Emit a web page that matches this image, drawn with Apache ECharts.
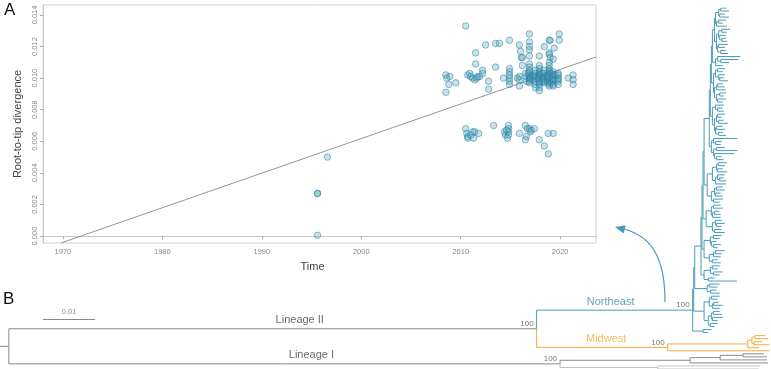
<!DOCTYPE html>
<html>
<head>
<meta charset="utf-8">
<script src="https://cdn.jsdelivr.net/npm/echarts@6/dist/echarts.min.js"></script>
<style>
html, body { margin: 0; padding: 0; background: #fff; }
#chart { width: 771px; height: 369px; }
</style>
</head>
<body>
<div id="chart"></div>
<script>
// ---- panel A: root-to-tip regression ----
var yearTicks = [1970, 1980, 1990, 2000, 2010, 2020];
var divTicks = [0, 0.002, 0.004, 0.006, 0.008, 0.010, 0.012, 0.014];

var earlyTips = [[1995.6, 0.0027], [1995.6, 0.0027], [1995.6, 0.00005], [1996.6, 0.0050]];

var lowerTips = [
  [2010.5, 0.0068], [2010.6, 0.0065], [2010.7, 0.0063], [2010.7, 0.0062], [2011.2, 0.0066], [2011.4, 0.0066],
  [2011.3, 0.0062], [2011.8, 0.0065], [2011.0, 0.0064], [2013.3, 0.0070],
  [2014.4, 0.0066], [2014.5, 0.0064], [2014.8, 0.0070], [2014.8, 0.0068], [2014.8, 0.0066], [2014.8, 0.0064],
  [2014.7, 0.0062], [2014.6, 0.0067], [2015.9, 0.0065],
  [2016.5, 0.0070], [2016.6, 0.0063], [2016.5, 0.0061], [2016.7, 0.0068], [2016.9, 0.0068], [2017.0, 0.0066],
  [2017.1, 0.0067], [2017.4, 0.0068], [2017.9, 0.0061],
  [2018.8, 0.0065], [2019.3, 0.0065], [2018.4, 0.0057], [2018.8, 0.0052]
];

var upperTips = [
  [2008.5, 0.0102], [2008.6, 0.0100], [2008.9, 0.0101], [2009.5, 0.0097], [2008.8, 0.0096], [2008.5, 0.0091],
  [2010.5, 0.0133], [2010.7, 0.0102], [2010.9, 0.0103],
  [2011.0, 0.0101], [2011.2, 0.0100], [2011.5, 0.0116], [2011.5, 0.0109], [2011.4, 0.0099], [2011.7, 0.0101],
  [2011.9, 0.0101], [2011.6, 0.0100],
  [2012.2, 0.0105], [2012.2, 0.0103], [2012.5, 0.0121], [2012.8, 0.0098], [2012.8, 0.0093],
  [2013.5, 0.0122], [2013.9, 0.0122], [2013.5, 0.0107],
  [2014.3, 0.0100], [2014.9, 0.0124], [2014.9, 0.0106], [2014.9, 0.0104], [2014.9, 0.0102], [2014.9, 0.0100],
  [2014.9, 0.0098], [2014.9, 0.0096],
  [2015.9, 0.0121], [2015.9, 0.0101], [2015.9, 0.0099], [2015.9, 0.0095], [2015.7, 0.0100],
  [2016.0, 0.0117], [2016.1, 0.0113], [2016.2, 0.0113], [2016.2, 0.0108], [2016.6, 0.0101], [2016.6, 0.0098],
  [2016.5, 0.0103],
  [2016.9, 0.0128], [2016.9, 0.0123], [2016.9, 0.0120], [2016.9, 0.0118], [2016.9, 0.0114], [2016.9, 0.0109],
  [2016.9, 0.0107], [2016.9, 0.0105], [2016.9, 0.0104], [2016.9, 0.0102], [2016.9, 0.0101], [2016.9, 0.0100],
  [2016.9, 0.0099], [2016.9, 0.0098], [2016.9, 0.0097], [2016.8, 0.0103], [2017.0, 0.0100],
  [2017.2, 0.0102], [2017.2, 0.0099], [2017.3, 0.0101],
  [2017.5, 0.0105], [2017.5, 0.0103], [2017.5, 0.0101], [2017.5, 0.0100], [2017.5, 0.0098], [2017.5, 0.0096],
  [2017.5, 0.0094],
  [2017.9, 0.0114], [2017.9, 0.0108], [2017.9, 0.0106], [2017.9, 0.0104], [2017.9, 0.0103], [2017.9, 0.0102],
  [2017.9, 0.0101], [2017.9, 0.0100], [2017.9, 0.0099], [2017.9, 0.0098], [2017.9, 0.0097], [2017.9, 0.0096],
  [2017.9, 0.0094], [2017.9, 0.0092], [2017.8, 0.0100], [2018.0, 0.0102],
  [2018.2, 0.0103], [2018.2, 0.0100], [2018.2, 0.0098],
  [2018.4, 0.0120], [2018.4, 0.0105], [2018.4, 0.0103], [2018.4, 0.0101], [2018.4, 0.0100], [2018.4, 0.0099],
  [2018.4, 0.0098], [2018.4, 0.0097],
  [2018.7, 0.0102], [2018.7, 0.0100], [2018.7, 0.0098],
  [2018.9, 0.0124], [2019.0, 0.0124], [2018.9, 0.0116], [2018.9, 0.0115], [2019.0, 0.0113],
  [2018.9, 0.0110], [2018.9, 0.0108], [2018.9, 0.0106], [2018.9, 0.0105], [2018.9, 0.0104], [2018.9, 0.0103],
  [2018.9, 0.0102], [2018.9, 0.0101], [2018.9, 0.0100], [2018.9, 0.0099], [2018.9, 0.0098], [2018.9, 0.0097],
  [2018.9, 0.0096], [2018.9, 0.0095], [2018.8, 0.0101],
  [2019.1, 0.0103], [2019.1, 0.0100], [2019.1, 0.0097],
  [2019.3, 0.0112], [2019.4, 0.0119], [2019.3, 0.0104], [2019.3, 0.0102], [2019.3, 0.0101], [2019.3, 0.0100],
  [2019.3, 0.0099], [2019.3, 0.0098], [2019.3, 0.0096], [2019.3, 0.0095],
  [2019.5, 0.0102], [2019.5, 0.0099],
  [2019.9, 0.0128], [2019.9, 0.0124], [2019.8, 0.0103], [2019.8, 0.0102], [2019.8, 0.0100], [2019.8, 0.0099],
  [2019.8, 0.0098], [2019.8, 0.0096],
  [2020.8, 0.0100], [2021.3, 0.0102], [2021.3, 0.0099], [2021.3, 0.0096]
];

// fitted line, clipped to the plot box
var fitLine = [[1969.8, -0.00044], [2023.6, 0.01134]];

// ---- panel B: ML tree (newick, subst/site) ----
var northeastSubclades = [
  ['((((:0.0012,:0.0016):0.0004,(:0.0010,:0.0018):0.0002):0.0006,((:0.0014,:0.0008):0.0004,:0.0020):0.0002):0.0002,(((:0.0016,:0.0010):0.0006,(:0.0012,(:0.0008,:0.0010):0.0004):0.0002):0.0004,((:0.0018,:0.0012):0.0002,(:0.0010,:0.0014):0.0006):0.0002):0.0004)', 0.0004],
  ['((:0.0044,(:0.0034,:0.0016):0.0006):0.0004,:0.0014)', 0.0006],
  ['(((:0.0014,:0.0010):0.0004,(:0.0012,(:0.0008,:0.0016):0.0002):0.0006):0.0004,(((:0.0010,:0.0014):0.0002,:0.0018):0.0004,((:0.0012,:0.0008):0.0006,(:0.0016,:0.0010):0.0002):0.0004):0.0002)', 0.0004],
  ['((:0.0016,(:0.0010,:0.0012):0.0004):0.0006,(((:0.0014,:0.0008):0.0002,(:0.0010,:0.0018):0.0004):0.0004,((:0.0012,:0.0016):0.0002,(:0.0008,:0.0014):0.0006):0.0002):0.0004)', 0.0004],
  ['((:0.0046,(:0.0012,:0.0010):0.0004):0.0004,((:0.0016,:0.0040):0.0006,(:0.0038,(:0.0010,:0.0014):0.0004):0.0002):0.0004)', 0.0004],
  ['((((:0.0016,:0.0012):0.0004,(:0.0010,:0.0018):0.0002):0.0008,((:0.0014,(:0.0008,:0.0012):0.0004):0.0004,:0.0020):0.0006):0.0010,(((:0.0012,:0.0016):0.0004,(:0.0010,:0.0014):0.0002):0.0006,(:0.0018,:0.0012):0.0004):0.0008)', 0.0006],
  ['(((:0.0014,:0.0018):0.0004,((:0.0010,:0.0012):0.0004,:0.0016):0.0002):0.0010,((:0.0012,(:0.0016,:0.0010):0.0002):0.0006,(:0.0014,:0.0020):0.0004):0.0012)', 0.0006],
  ['(((:0.0016,:0.0012):0.0006,(:0.0010,(:0.0014,:0.0008):0.0004):0.0002):0.0012,(((:0.0018,:0.0012):0.0004,:0.0014):0.0008,(:0.0010,:0.0016):0.0006):0.0010)', 0.0004],
  ['(((:0.0014,:0.0010):0.0004,(:0.0018,:0.0012):0.0006):0.0012,(:0.0012,:0.0055):0.0008)', 0.0006],
  ['((:0.0020,:0.0016):0.0004,(:0.0012,:0.0018):0.0006)', 0.0024],
  ['(((:0.0016,:0.0012):0.0004,((:0.0010,:0.0018):0.0002,:0.0014):0.0006):0.0010,(((:0.0012,:0.0016):0.0004,(:0.0020,:0.0010):0.0002):0.0006,(:0.0014,:0.0008):0.0004):0.0008)', 0.0020],
  ['(:0.0016,:0.0010)', 0.0020]
];
var backboneSteps = [0.0002, 0.0002, 0.0002, 0.0010, 0.0002, 0.0002, 0.0002, 0.0012, 0.0002, 0.0002];
var midwestNewick = '((((:0.0020,:0.0026):0.0006,(:0.0016,:0.0030):0.0004):0.0008,:0.0022):0.0154,:0.0196)MW';
var lineageINewick = '((((:0.0040,:0.0046):0.0044,:0.0090):0.0058,:0.0150):0.0250,(:0.0196,:0.0194)L1b:0.0188)L1';
var cladeBranch = { NE: 0.0300, MW: 0.0252, L2: 0.1015, L1: 0.1060, root: 0.0017 };
var cladeNames = { L2: 'Lineage II', L1: 'Lineage I', NE: 'Northeast', MW: 'Midwest' };
var nodeSupport = { L2: 100, NE: 100, MW: 100, L1: 100 };
var scaleBarLength = 0.01;

var teal = '#4a9bb7', tealText = '#3b8aa7', orange = '#f6aa38';
var cladeColor = { NE: teal, MW: orange, L1: '#8a8a8a', L1b: '#c2c2c2' };
var labelShift = { L2: 27, L1: 27, NE: -4, MW: 4 };

var ne = '(' + northeastSubclades[0][0] + ':' + northeastSubclades[0][1] + ',' +
  northeastSubclades[1][0] + ':' + northeastSubclades[1][1] + ')';
for (var k = 2; k < northeastSubclades.length; k++) {
  ne = '(' + ne + ':' + backboneSteps[k - 2] + ',' + northeastSubclades[k][0] + ':' + northeastSubclades[k][1] + ')';
}
var treeNewick = '((' + ne + 'NE:' + cladeBranch.NE + ',' + midwestNewick + ':' + cladeBranch.MW + ')L2:' +
  cladeBranch.L2 + ',' + lineageINewick + ':' + cladeBranch.L1 + '):' + cladeBranch.root + ';';

function parseNewick(s) {
  s = s.replace(/\s+/g, '');
  var i = 0;
  function node() {
    var n = { children: [], name: '', len: 0 };
    if (s[i] === '(') {
      i++;
      n.children.push(node());
      while (s[i] === ',') { i++; n.children.push(node()); }
      i++;
    }
    var name = '';
    while (i < s.length && ':,();'.indexOf(s[i]) < 0) name += s[i++];
    n.name = name;
    if (s[i] === ':') {
      i++;
      var num = '';
      while (i < s.length && ',();'.indexOf(s[i]) < 0) num += s[i++];
      n.len = parseFloat(num);
    }
    return n;
  }
  return node();
}

var tree = parseNewick(treeNewick);
var tipCount = 0;
function layout(n, parentX, color) {
  n.x = parentX + n.len;
  n.color = cladeColor[n.name] || color;
  if (!n.children.length) { n.y = tipCount++; return; }
  n.children.forEach(function (c) { layout(c, n.x, n.color); });
  n.y = (n.children[0].y + n.children[n.children.length - 1].y) / 2;
}
layout(tree, 0, '#8a8a8a');

var branches = [{ coords: [[0, tree.y], [tree.x, tree.y]], lineStyle: { color: '#8a8a8a' } }];
var nameLabels = [], supportLabels = [];
function collect(n) {
  n.children.forEach(function (c) {
    branches.push({ coords: [[n.x, n.y], [n.x, c.y], [c.x, c.y]], lineStyle: { color: c.color } });
    if (cladeNames[c.name]) {
      nameLabels.push({ value: [n.x + c.len / 2, c.y], name: cladeNames[c.name],
        label: { offset: [labelShift[c.name], 0],
          color: c.name === 'NE' ? tealText : (c.name === 'MW' ? orange : '#444') } });
    }
    if (nodeSupport[c.name]) supportLabels.push({ value: [c.x, c.y], name: String(nodeSupport[c.name]) });
    collect(c);
  });
}
collect(tree);

var scaleBarStart = 0.0083, scaleBarRow = 102.5;

var font = 'Liberation Sans, Arial, sans-serif';
var chart = echarts.init(document.getElementById('chart'));
chart.setOption({
  animation: false,
  backgroundColor: '#fff',
  textStyle: { fontFamily: font },
  grid: [
    { left: 43, top: 5, width: 553, height: 238, show: true, borderColor: '#d0d0d0', borderWidth: 1 },
    { left: 0, right: 0, top: 8, bottom: 0 }
  ],
  xAxis: [
    {
      gridIndex: 0, type: 'value', min: 1968, max: 2023.6,
      name: 'Time', nameLocation: 'middle', nameGap: 18,
      nameTextStyle: { fontSize: 11, color: '#444', fontFamily: font, padding: [0, 14, 0, 0] },
      axisLine: { show: true, lineStyle: { color: '#c8c8c8' } },
      axisTick: { show: true, length: 3, customValues: yearTicks, lineStyle: { color: '#aaa' } },
      axisLabel: { customValues: yearTicks, fontSize: 7.5, color: '#888', margin: 5,
        formatter: function (v) { return String(v); } },
      splitLine: { show: false }
    },
    { gridIndex: 1, type: 'value', min: 0, max: 771 / 5200, show: false }
  ],
  yAxis: [
    {
      gridIndex: 0, type: 'value', min: -0.00044, max: 0.01463,
      name: 'Root-to-tip divergence', nameLocation: 'middle', nameGap: 20, nameRotate: 90,
      nameTextStyle: { fontSize: 11, color: '#444', fontFamily: font },
      axisLine: { show: true, lineStyle: { color: '#c8c8c8' } },
      axisTick: { show: true, length: 3, customValues: divTicks, lineStyle: { color: '#aaa' } },
      axisLabel: { customValues: divTicks, rotate: 90, fontSize: 7.5, color: '#888', margin: 4,
        formatter: function (v) { return v.toFixed(3); } },
      splitLine: { show: false }
    },
    { gridIndex: 1, type: 'value', min: 0, max: 119, inverse: true, show: false }
  ],
  series: [
    {
      type: 'line', xAxisIndex: 0, yAxisIndex: 0, data: fitLine, symbol: 'none',
      lineStyle: { color: '#7a7a7a', width: 0.8 }, z: 2
    },
    {
      type: 'scatter', xAxisIndex: 0, yAxisIndex: 0,
      data: earlyTips.concat(lowerTips, upperTips),
      symbolSize: 6.5,
      itemStyle: { color: 'rgba(90,168,196,0.42)', borderColor: 'rgba(32,118,150,0.75)', borderWidth: 0.8 },
      z: 3
    },
    {
      type: 'lines', coordinateSystem: 'cartesian2d', xAxisIndex: 1, yAxisIndex: 1,
      polyline: true, data: branches, lineStyle: { width: 1, opacity: 1 }, silent: true
    },
    {
      type: 'lines', coordinateSystem: 'cartesian2d', xAxisIndex: 1, yAxisIndex: 1,
      data: [{ coords: [[scaleBarStart, scaleBarRow], [scaleBarStart + scaleBarLength, scaleBarRow]] }],
      lineStyle: { width: 1, color: '#8a8a8a', opacity: 1 }, silent: true
    },
    {
      type: 'scatter', xAxisIndex: 1, yAxisIndex: 1, symbolSize: 0, silent: true,
      data: [{ value: [scaleBarStart + scaleBarLength / 2, scaleBarRow], name: String(scaleBarLength) }],
      label: { show: true, position: 'top', distance: 3, formatter: '{b}', fontSize: 7.5, color: '#777' }
    },
    {
      type: 'scatter', xAxisIndex: 1, yAxisIndex: 1, symbolSize: 0, silent: true,
      data: nameLabels,
      label: { show: true, position: 'top', distance: 3, formatter: '{b}', fontSize: 11 }
    },
    {
      type: 'scatter', xAxisIndex: 1, yAxisIndex: 1, symbolSize: 0, silent: true,
      data: supportLabels,
      label: { show: true, position: 'left', distance: 3, offset: [0, -5], formatter: '{b}', fontSize: 8, color: '#555' }
    }
  ],
  graphic: [
    { type: 'text', left: 4, top: 2, style: { text: 'A', fontSize: 17, fill: '#111', fontFamily: font } },
    { type: 'text', left: 3, top: 291, style: { text: 'B', fontSize: 17, fill: '#111', fontFamily: font } },
    {
      type: 'bezierCurve',
      shape: { x1: 665, y1: 302, cpx1: 665, cpy1: 255, cpx2: 650, cpy2: 236, x2: 624, y2: 229 },
      style: { stroke: teal, lineWidth: 1.2, fill: null }
    },
    {
      type: 'polygon',
      shape: { points: [[615, 227], [625.7, 225.2], [623.7, 233.4]] },
      style: { fill: teal }
    }
  ]
});
</script>
</body>
</html>
